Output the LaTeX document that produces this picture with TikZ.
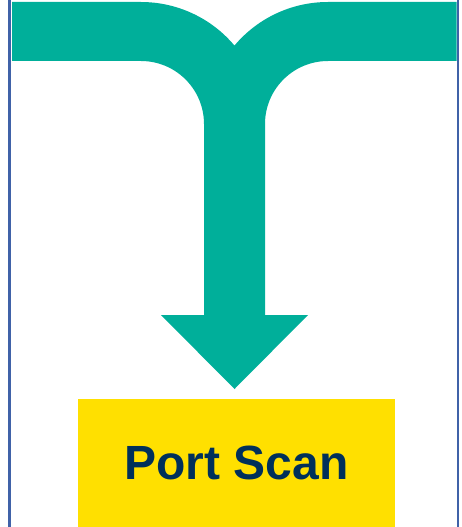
\documentclass[tikz,border=0pt]{standalone}
\usepackage{fontspec}
\setmainfont{Liberation Sans}
\definecolor{teal1}{HTML}{00AF9A}
\definecolor{yell}{HTML}{FFE000}
\definecolor{navy}{HTML}{00305A}
\definecolor{frameblue}{HTML}{4062A8}
\tikzset{
  mergearrow/.style={fill=teal1, draw=none},
  framestroke/.style={draw=frameblue, line width=2.6pt},
  labelbox/.style={fill=yell, draw=none, minimum width=317pt, minimum height=128pt, inner sep=0pt,
    font=\fontsize{48}{58}\selectfont\bfseries, text=navy}
}
\begin{document}
\begin{tikzpicture}[x=1pt,y=-1pt]
\useasboundingbox (0,0) rectangle (462,527);
% frame lines
\coordinate (lt) at (9.2,0); \coordinate (lb) at (9.2,527);
\coordinate (rt) at (457.8,0); \coordinate (rb) at (457.8,527);
\draw[framestroke] (lt) -- (lb);
\draw[framestroke] (rt) -- (rb);
% merge arrow
\path[mergearrow] (12,2) -- (141,2)
  arc[start angle=-90, end angle=-40, radius=122]
  arc[start angle=220, end angle=270, radius=122]
  -- (456.5,2) -- (456.5,61) -- (328,61)
  arc[start angle=270, end angle=180, radius=63]
  -- (265,315) -- (308,315) -- (234.5,389) -- (161,315) -- (204,315) -- (204,124)
  arc[start angle=0, end angle=-90, radius=63]
  -- (12,61) -- cycle;
% label box
\node[labelbox] (box) at (236.5,463) {Port Scan};
\end{tikzpicture}
\end{document}
